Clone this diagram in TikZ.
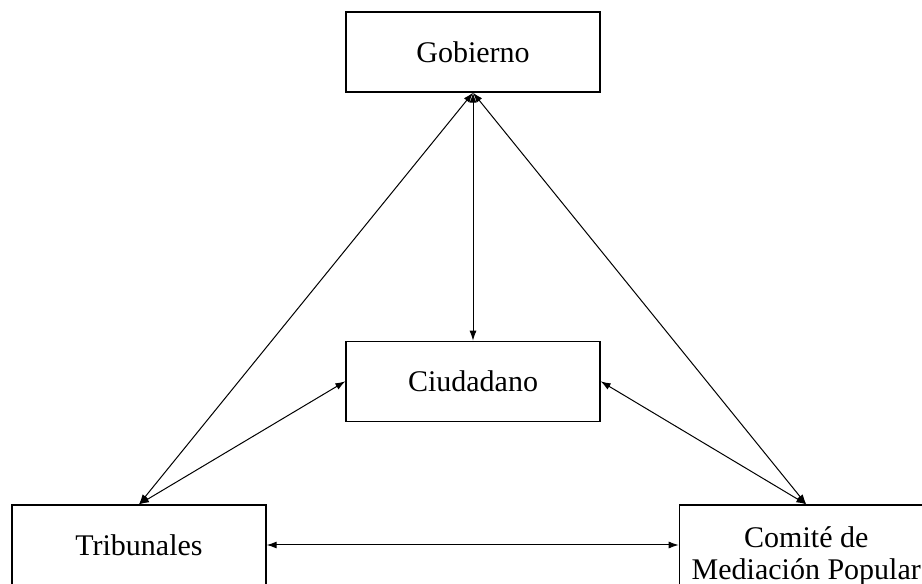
\documentclass[tikz,border=0pt]{standalone}
\usepackage{fontspec}
\setmainfont{Liberation Serif}
\usetikzlibrary{arrows.meta, positioning}

\begin{document}
\begin{tikzpicture}[x=1pt, y=1pt, node distance=.3cm,
    box/.style={draw, line width=1.3pt, minimum width=254pt, minimum height=80pt,
        font=\fontsize{30}{32}\selectfont},
    >={Latex[length=10pt, width=7pt]}]
		\useasboundingbox (0,0) rectangle (922,584);
		\node[box] (gobierno) at (473,532) {Gobierno};
		\node[box, below = 248pt of gobierno] (ciudadano) {Ciudadano};
		\node[box] (tribunales) at (139,39) {Tribunales};
		\node[box, right = 412pt of tribunales] (comite) {\raisebox{-18pt}[0pt][0pt]{\begin{tabular}{@{}c@{}}Comité de\\Mediación Popular\end{tabular}}};
		
		
		\draw[<->,draw=black, line width=1pt] (gobierno) to (ciudadano);
		\draw[<->,draw=black, line width=1pt] (gobierno.south) to (tribunales.north);
		\draw[<->,draw=black, line width=1pt] (gobierno.south) to (comite.north);
		\draw[<->,draw=black, line width=1pt] (ciudadano.west) to (tribunales.north);
		\draw[<->,draw=black, line width=1pt] (ciudadano.east) to (comite.north);
		\draw[<->,draw=black, line width=1pt] (tribunales) to (comite);
		
		\end{tikzpicture}
\end{document}
